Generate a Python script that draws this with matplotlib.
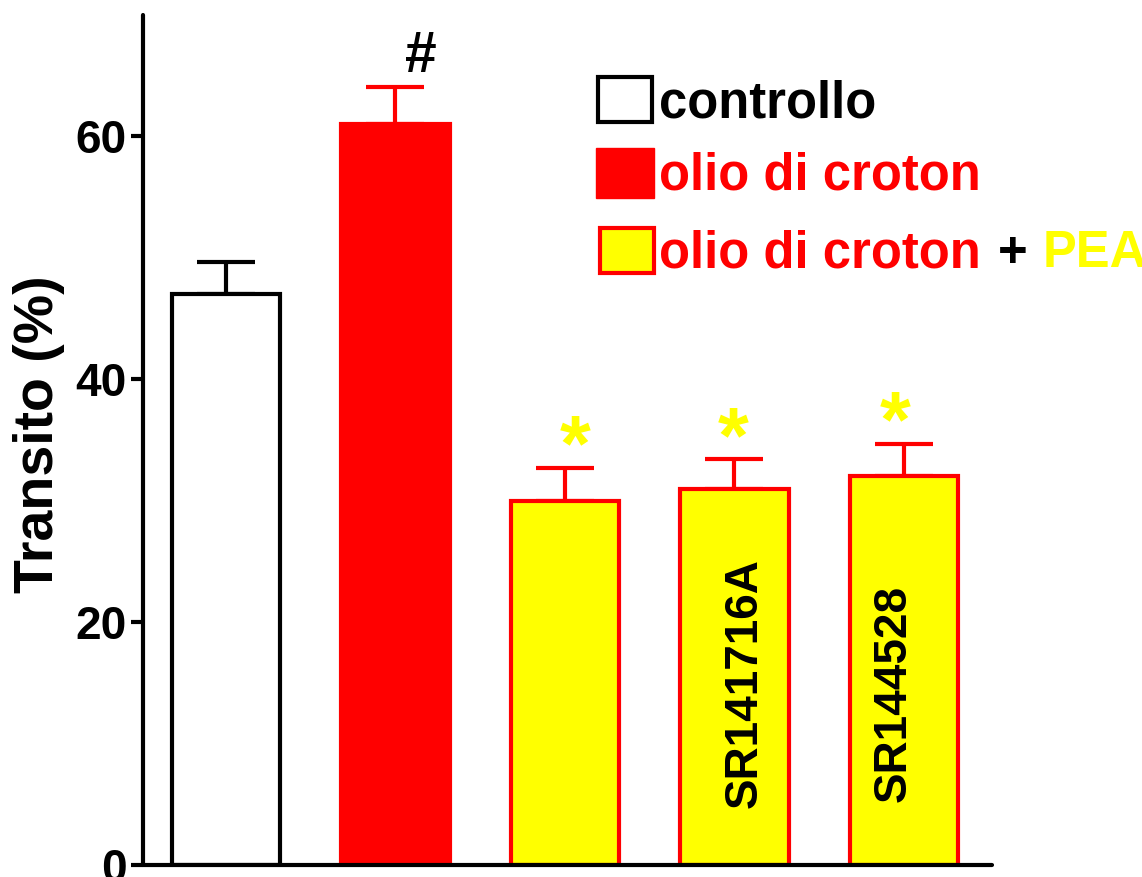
import matplotlib.pyplot as plt
from matplotlib.patches import Rectangle

plt.rcParams['font.family'] = ['Liberation Sans', 'DejaVu Sans']
plt.rcParams['font.weight'] = 'bold'

# Transito intestinale (%) per gruppo
groups = ['controllo', 'olio di croton', 'PEA', 'PEA + SR141716A', 'PEA + SR144528']
transit = [47.0, 61.0, 30.0, 31.0, 32.0]
sem = [2.7, 3.1, 2.7, 2.4, 2.7]
antagonist = ['', '', '', 'SR141716A', 'SR144528']
marks = ['', '#', '*', '*', '*']

W, H = 1142, 877
fig = plt.figure(figsize=(W / 100, H / 100), dpi=100)


def fx(px):
    return px / W


def fy(py):
    return 1 - py / H


ax = fig.add_axes([fx(143), fy(865), fx(992) - fx(143), fy(15) - fy(865)])

fills = ['white', '#ff0000', '#ffff00', '#ffff00', '#ffff00']
edges = ['black', '#ff0000', '#ff0000', '#ff0000', '#ff0000']
xs = list(range(len(groups)))

ax.bar(xs, transit, width=0.64, color=fills, edgecolor=edges, linewidth=3, zorder=2)
for x, m, e, c in zip(xs, transit, sem, edges):
    ax.errorbar(x, m, yerr=[[0], [e]], fmt='none', ecolor=c, elinewidth=3,
                capsize=21, capthick=3, zorder=1)

# significance marks
mark_dx = [0, 0.15, 0.06, -0.01, -0.05]
for x, m, e, s, dx in zip(xs, transit, sem, marks, mark_dx):
    if s == '#':
        ax.text(x + dx, m + e + 1.2, s, ha='center', va='baseline',
                fontsize=41, color='black', fontweight='bold')
    elif s == '*':
        ax.text(x + dx, m + e - 0.2, s, ha='center', va='baseline',
                fontsize=57, color='#ffff00', fontweight='bold')

# antagonist names inside the bars
name_dx = [0, 0, 0, 0.06, -0.06]
name_y0 = [0, 0, 0, 4.7, 5.2]
for x, name, dx, y0 in zip(xs, antagonist, name_dx, name_y0):
    if name:
        ax.text(x + dx, y0, name, rotation=90, ha='center', va='bottom',
                fontsize=33, color='black', fontweight='bold')

ax.set_xlim(-0.49, 4.52)
ax.set_ylim(0, 70)
ax.set_yticks([0, 20, 40, 60])
ax.set_xticks([])
ax.tick_params(axis='y', length=9, width=3, pad=3)
for lab in ax.get_yticklabels():
    lab.set_fontfamily(['Liberation Sans Narrow', 'Liberation Sans'])
    lab.set_fontsize(33)
    lab.set_fontweight('bold')
for side in ['top', 'right']:
    ax.spines[side].set_visible(False)
for side in ['left', 'bottom']:
    ax.spines[side].set_linewidth(3)
    ax.spines[side].set_capstyle('round')

fig.text(fx(39), fy(434), 'Transito (%)', rotation=90, ha='center', va='center',
         fontsize=40, fontweight='bold')

# legend
fig.patches.append(Rectangle((fx(598), fy(122)), fx(54), fy(77) - fy(122),
                             transform=fig.transFigure, facecolor='white',
                             edgecolor='black', linewidth=3))
fig.patches.append(Rectangle((fx(596), fy(198)), fx(58), fy(148) - fy(198),
                             transform=fig.transFigure, facecolor='#ff0000',
                             edgecolor='#ff0000', linewidth=1))
fig.patches.append(Rectangle((fx(600), fy(273)), fx(54), fy(228) - fy(273),
                             transform=fig.transFigure, facecolor='#ffff00',
                             edgecolor='#ff0000', linewidth=3))
fig.text(fx(659), fy(117), 'controllo', fontsize=36.5, fontweight='bold',
         color='black', va='baseline')
fig.text(fx(659), fy(190), 'olio di croton', fontsize=36.5, fontweight='bold',
         color='#ff0000', va='baseline')
fig.text(fx(659), fy(267), 'olio di croton', fontsize=36.5, fontweight='bold',
         color='#ff0000', va='baseline')
fig.text(fx(998), fy(267), '+', fontsize=36.5, fontweight='bold',
         color='black', va='baseline')
fig.text(fx(1043), fy(267), 'PEA', fontsize=36.5, fontweight='bold',
         color='#ffff00', va='baseline')

fig.savefig('out.png', dpi=100)
